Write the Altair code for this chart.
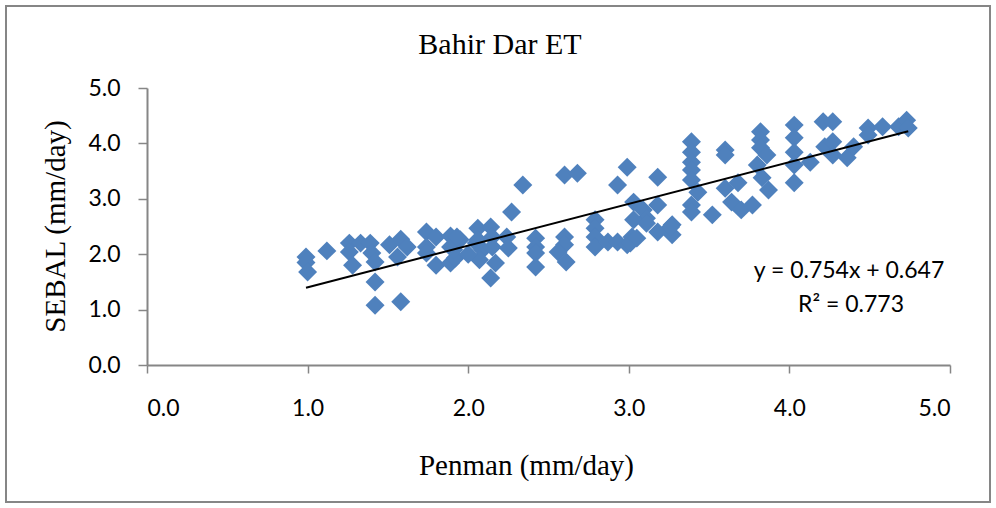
import altair as alt
import pandas as pd

penman = [0.99, 0.99, 1.00, 1.12, 1.26, 1.26, 1.28, 1.33, 1.39, 1.40, 1.42, 1.42, 1.42, 1.58,
          1.51, 1.58, 1.62, 1.56, 1.74, 1.80, 1.74, 1.74, 1.80, 1.89, 1.89, 1.89, 1.92, 1.95,
          1.91, 2.05, 1.93, 2.06, 2.14, 2.06, 2.09, 2.15, 2.15, 2.24, 2.25, 2.07, 2.17, 2.14,
          2.27, 2.34, 2.00, 2.42, 2.42, 2.42, 2.42, 2.60, 2.60, 2.56, 2.61, 2.60, 2.68, 2.79,
          2.79, 2.79, 2.79, 2.87, 2.93, 2.93, 2.99, 2.99, 3.02, 3.01, 3.05, 3.03, 3.09, 3.11,
          3.18, 3.03, 3.27, 3.18, 3.18, 3.27, 3.26, 3.11, 3.39, 3.39, 3.39, 3.39, 3.39, 3.43,
          3.39, 3.39, 3.52, 3.60, 3.60, 3.60, 3.68, 3.64, 3.70, 3.77, 3.82, 3.82, 3.82, 3.86,
          3.80, 3.83, 3.87, 4.03, 4.03, 4.03, 4.03, 4.03, 4.13, 4.21, 4.27, 4.22, 4.27, 4.27,
          4.36, 4.40, 4.49, 4.49, 4.58, 4.68, 4.73, 4.74]
sebal = [1.95, 1.85, 1.68, 2.06, 2.20, 2.04, 1.80, 2.20, 2.20, 2.02, 1.86, 1.50, 1.08, 1.14,
         2.17, 2.27, 2.13, 1.95, 2.40, 2.31, 2.13, 2.02, 1.80, 2.33, 2.13, 1.84, 1.93, 2.26,
         2.08, 2.20, 2.31, 2.47, 2.49, 2.26, 2.08, 2.31, 2.13, 2.31, 2.11, 1.90, 1.84, 1.57,
         2.76, 3.25, 2.00, 2.29, 2.13, 2.02, 1.77, 2.31, 2.17, 2.04, 1.86, 3.43, 3.46, 2.62,
         2.47, 2.31, 2.13, 2.22, 2.22, 3.25, 3.57, 2.17, 2.31, 2.20, 2.29, 2.94, 2.80, 2.65,
         2.89, 2.62, 2.53, 3.39, 2.40, 2.35, 2.49, 2.56, 4.03, 3.84, 3.66, 3.52, 3.34, 3.12,
         2.89, 2.76, 2.71, 3.88, 3.79, 3.19, 3.29, 2.94, 2.80, 2.89, 4.21, 4.06, 3.92, 3.79,
         3.61, 3.38, 3.16, 4.33, 4.10, 3.84, 3.61, 3.29, 3.66, 4.39, 4.39, 3.94, 4.03, 3.79,
         3.74, 3.94, 4.28, 4.15, 4.30, 4.30, 4.42, 4.28]

slope = 0.754
intercept = 0.647
fit_range = [0.99, 4.74]
annotations = ["y = 0.754x + 0.647", "R\u00b2 = 0.773"]
chart_title = ["Bahir Dar ET"]
axis_ticks = [0.0, 1.0, 2.0, 3.0, 4.0, 5.0]

W, H = 803, 277
PAD_L, PAD_T = 147, 88

pts = pd.DataFrame({"Penman": penman, "SEBAL": sebal})
fit = pd.DataFrame({"Penman": fit_range,
                    "SEBAL": [slope * v + intercept for v in fit_range]})

xscale = alt.Scale(domain=[0, 5], nice=False)
yscale = alt.Scale(domain=[0, 5], nice=False)

xaxis = alt.Axis(values=axis_ticks, format=".1f", title="Penman (mm/day)",
                 titleFont="Liberation Serif", titleFontSize=29, titleFontWeight="normal",
                 titleColor="#000000", titleX=379, titleY=100, titleBaseline="middle",
                 titleAnchor="middle", titleAlign="center",
                 labelFont="Lato", labelFontSize=23, labelColor="#000000",
                 labelBaseline="middle", labelPadding=35,
                 tickSize=8, tickColor="#868686", tickWidth=1.5,
                 domainColor="#868686", domainWidth=2, grid=False)
yaxis = alt.Axis(values=axis_ticks, format=".1f", title="SEBAL (mm/day)",
                 titleFont="Liberation Serif", titleFontSize=29, titleFontWeight="normal",
                 titleColor="#000000", titleX=-92, titleY=138, titleBaseline="middle",
                 titleAngle=270, titleAlign="center",
                 labelFont="Lato", labelFontSize=23, labelColor="#000000",
                 labelPadding=18, labelBaseline="middle",
                 tickSize=9, tickColor="#868686", tickWidth=1.5,
                 domainColor="#868686", domainWidth=2, grid=False)

points = alt.Chart(pts).mark_point(shape="diamond", filled=True, size=360,
                                   color="#4F81BD", opacity=1, strokeWidth=0).encode(
    x=alt.X("Penman:Q", scale=xscale, axis=xaxis),
    y=alt.Y("SEBAL:Q", scale=yscale, axis=yaxis),
)

line = alt.Chart(fit).mark_line(color="#000000", strokeWidth=2).encode(
    x=alt.X("Penman:Q", scale=xscale),
    y=alt.Y("SEBAL:Q", scale=yscale),
)

eq = alt.Chart(pd.DataFrame({"t": [annotations[0]]})).mark_text(
    font="Lato", fontSize=23, color="#000000", align="center", baseline="middle").encode(
    text="t:N", x=alt.value(702), y=alt.value(183))
r2 = alt.Chart(pd.DataFrame({"t": [annotations[1]]})).mark_text(
    font="Lato", fontSize=23, color="#000000", align="center", baseline="middle").encode(
    text="t:N", x=alt.value(704), y=alt.value(217))
ttl = alt.Chart(pd.DataFrame({"t": chart_title})).mark_text(
    font="Liberation Serif", fontSize=30, color="#000000", align="center",
    baseline="middle").encode(
    text="t:N", x=alt.value(353), y=alt.value(-43))

frame = alt.Chart(pd.DataFrame({"a": [0]})).mark_rect(
    fill=None, stroke="#868686", strokeWidth=2).encode(
    x=alt.value(-141), x2=alt.value(843), y=alt.value(-82), y2=alt.value(414))

chart = alt.layer(frame, points, line, eq, r2, ttl).properties(
    width=W, height=H,
    autosize=alt.AutoSizeParams(type="none"),
    padding={"left": PAD_L, "top": PAD_T, "right": 996 - PAD_L - W, "bottom": 508 - PAD_T - H},
    background="#FFFFFF",
).configure_view(stroke=None)

chart.save("out.html", embed_options={"renderer": "svg", "actions": False})
